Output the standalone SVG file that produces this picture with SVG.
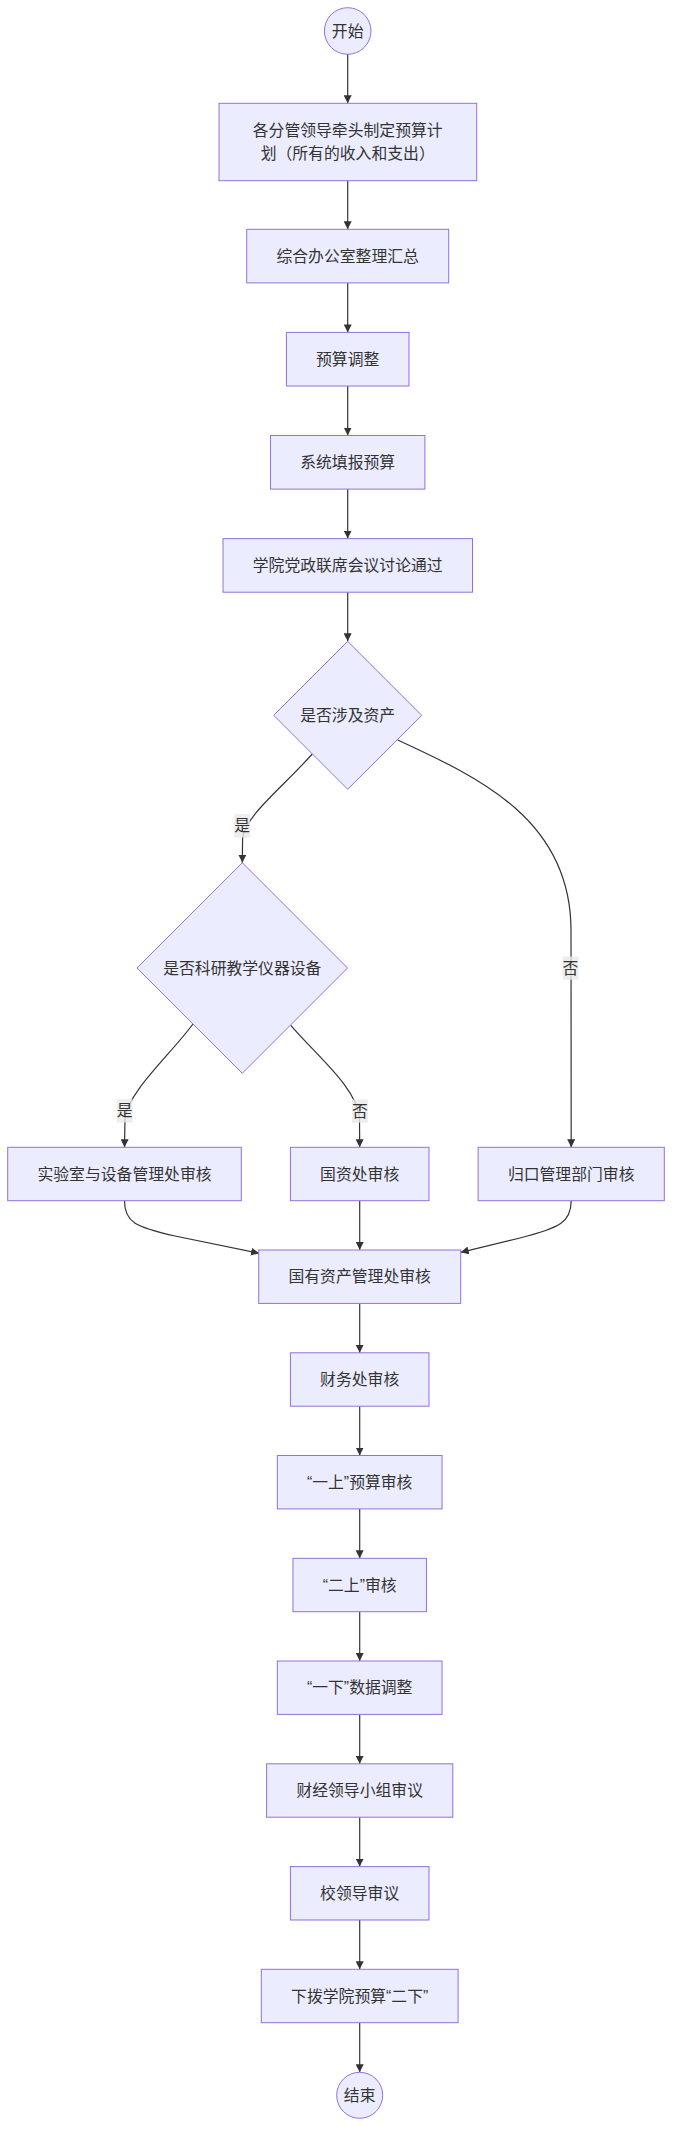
<svg xmlns="http://www.w3.org/2000/svg" width="680" height="2152" viewBox="0 0 680 2152">
<defs>
<marker id="arrow" viewBox="0 0 10 10" refX="10" refY="5" markerUnits="userSpaceOnUse" markerWidth="8" markerHeight="8" orient="auto">
<path d="M0,0 L10,5 L0,10 z" fill="#333333"/>
</marker>
<style>
.node{fill:#ECECFF;stroke:#9370DB;stroke-width:1;}
.t{font-family:"Liberation Sans","Noto Sans CJK SC",sans-serif;font-size:15.84px;fill:#333333;text-anchor:middle;dominant-baseline:central;}
.edge{fill:none;stroke:#333333;stroke-width:1.2;marker-end:url(#arrow);}
.lbg{fill:#e8e8e8;fill-opacity:0.8;}
</style>
</defs>
<rect width="680" height="2152" fill="#ffffff"/>
<g id="connectors">
<path class="edge" d="M347.7,54.3 L347.7,103.3"/>
<path class="edge" d="M347.7,180.7 L347.7,229.3"/>
<path class="edge" d="M347.7,282.9 L347.7,332.4"/>
<path class="edge" d="M347.7,386 L347.7,435.5"/>
<path class="edge" d="M347.7,489.1 L347.7,538.6"/>
<path class="edge" d="M347.7,592.2 L347.7,641.3"/>
<path class="edge" d="M312.3,754 C280,790 246,815 242.6,838 L242.3,862.7"/>
<path class="edge" d="M397.7,740 C480,778 570.8,820 571,930 L571.2,1147.3"/>
<path class="edge" d="M193,1024 C170,1055 128,1092 125,1118 L124.5,1147.3"/>
<path class="edge" d="M290.8,1025.3 C318,1057 357,1088 359.5,1118 L359.7,1147.3"/>
<path class="edge" d="M124.5,1200.7 C124.5,1222 135,1227 175,1236 L259,1253.3"/>
<path class="edge" d="M359.7,1200.7 L359.7,1250"/>
<path class="edge" d="M571.2,1200.7 C571.2,1222 560,1228 520,1238 L460.7,1252.3"/>
<path class="edge" d="M359.7,1303.4 L359.7,1352.8"/>
<path class="edge" d="M359.7,1406.2 L359.7,1455.5"/>
<path class="edge" d="M359.7,1509 L359.7,1558.3"/>
<path class="edge" d="M359.7,1611.7 L359.7,1661"/>
<path class="edge" d="M359.7,1714.4 L359.7,1763.8"/>
<path class="edge" d="M359.7,1817.2 L359.7,1866.6"/>
<path class="edge" d="M359.7,1920 L359.7,1969.3"/>
<path class="edge" d="M359.7,2022.7 L359.7,2072.3"/>
<g id="edge-labels">
<rect class="lbg" x="234.3" y="814.2" width="15.8" height="23.3"/>
<text class="t" x="242.2" y="825.8">是</text>
<rect class="lbg" x="562.6" y="956.4" width="15.8" height="23.3"/>
<text class="t" x="570.5" y="968">否</text>
<rect class="lbg" x="116.8" y="1099.1" width="15.8" height="23.3"/>
<text class="t" x="124.7" y="1110.7">是</text>
<rect class="lbg" x="352" y="1099.4" width="15.8" height="23.3"/>
<text class="t" x="359.9" y="1111">否</text>
</g>
</g>
<g id="start">
<circle class="node" cx="347.7" cy="31" r="23.3"/>
<text class="t" x="347.7" y="31">开始</text>
</g>
<g id="plan">
<rect class="node" x="219" y="103.3" width="257.7" height="77.4"/>
<text class="t" x="347.7" y="130.2">各分管领导牵头制定预算计</text>
<text class="t" x="347.7" y="153.9">划（所有的收入和支出）</text>
</g>
<g id="summary">
<rect class="node" x="246.7" y="229.3" width="202" height="53.6"/>
<text class="t" x="347.7" y="256.1">综合办公室整理汇总</text>
</g>
<g id="adjust">
<rect class="node" x="286.4" y="332.4" width="122.6" height="53.6"/>
<text class="t" x="347.7" y="359.2">预算调整</text>
</g>
<g id="fill">
<rect class="node" x="270.5" y="435.5" width="154.4" height="53.6"/>
<text class="t" x="347.7" y="462.3">系统填报预算</text>
</g>
<g id="meeting">
<rect class="node" x="223" y="538.6" width="249.5" height="53.6"/>
<text class="t" x="347.7" y="565.4">学院党政联席会议讨论通过</text>
</g>
<g id="asset">
<polygon class="node" points="347.7,641.3 421.7,715.3 347.7,789.3 273.7,715.3"/>
<text class="t" x="347.7" y="715.3">是否涉及资产</text>
</g>
<g id="equipment">
<polygon class="node" points="242.3,862.7 347.6,968 242.3,1073.3 137,968"/>
<text class="t" x="242.3" y="968">是否科研教学仪器设备</text>
</g>
<g id="lab">
<rect class="node" x="7.7" y="1147.3" width="233.6" height="53.4"/>
<text class="t" x="124.5" y="1174">实验室与设备管理处审核</text>
</g>
<g id="stateasset">
<rect class="node" x="290.4" y="1147.3" width="138.6" height="53.4"/>
<text class="t" x="359.7" y="1174">国资处审核</text>
</g>
<g id="dept">
<rect class="node" x="478.1" y="1147.3" width="186.2" height="53.4"/>
<text class="t" x="571.2" y="1174">归口管理部门审核</text>
</g>
<g id="assetoffice">
<rect class="node" x="258.7" y="1250" width="202" height="53.4"/>
<text class="t" x="359.7" y="1276.7">国有资产管理处审核</text>
</g>
<g id="finance">
<rect class="node" x="290.4" y="1352.8" width="138.6" height="53.4"/>
<text class="t" x="359.7" y="1379.5">财务处审核</text>
</g>
<g id="up1">
<rect class="node" x="277.35" y="1455.5" width="164.7" height="53.4"/>
<text class="t" x="359.7" y="1482.2">“一上”预算审核</text>
</g>
<g id="up2">
<rect class="node" x="292.95" y="1558.3" width="133.5" height="53.4"/>
<text class="t" x="359.7" y="1585">“二上”审核</text>
</g>
<g id="down1">
<rect class="node" x="277.35" y="1661" width="164.7" height="53.4"/>
<text class="t" x="359.7" y="1687.7">“一下”数据调整</text>
</g>
<g id="group">
<rect class="node" x="266.6" y="1763.8" width="186.2" height="53.4"/>
<text class="t" x="359.7" y="1790.5">财经领导小组审议</text>
</g>
<g id="leaders">
<rect class="node" x="290.4" y="1866.6" width="138.6" height="53.4"/>
<text class="t" x="359.7" y="1893.3">校领导审议</text>
</g>
<g id="down2">
<rect class="node" x="261.3" y="1969.3" width="196.8" height="53.4"/>
<text class="t" x="359.7" y="1996">下拨学院预算“二下”</text>
</g>
<g id="end">
<circle class="node" cx="359.7" cy="2095.3" r="23"/>
<text class="t" x="359.7" y="2095.3">结束</text>
</g>
</svg>
